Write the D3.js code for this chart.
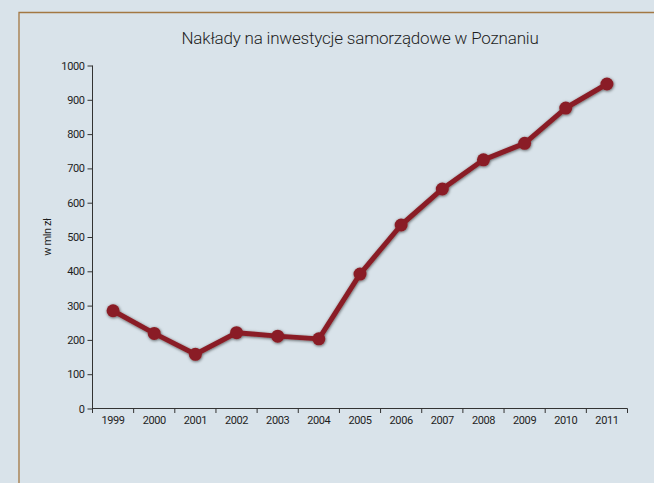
<!DOCTYPE html>
<html lang="pl">
<head>
    <meta charset="UTF-8">
    <title>Nakłady na inwestycje samorządowe w Poznaniu</title>
    <script src="https://d3js.org/d3.v7.min.js"></script>
    <style>
        body { margin: 0; background: #d9e3ea; }
        svg { display: block; }
        .axis text, .ylabel {
            font-family: Roboto, "Noto Sans", sans-serif;
            font-size: 11px;
            letter-spacing: -0.4px;
            fill: #1e1e1e;
        }
        .axis path, .axis line { stroke: #333; stroke-width: 1px; }
        .title {
            font-family: Roboto, "Open Sans", sans-serif;
            font-weight: 300;
            font-size: 17px;
            letter-spacing: -0.2px;
            fill: #1e1e1e;
        }
    </style>
</head>
<body>
    <svg id="chart" width="654" height="483"></svg>

    <script>
        // dane
        const years = ["1999", "2000", "2001", "2002", "2003", "2004", "2005",
                       "2006", "2007", "2008", "2009", "2010", "2011"];
        const values = [285, 219, 158, 221, 211, 203, 392, 535, 640, 725, 773, 876, 946];
        const yTicks = [0, 100, 200, 300, 400, 500, 600, 700, 800, 900, 1000];

        const svg = d3.select("#chart");
        const width = +svg.attr("width");
        const height = +svg.attr("height");

        // tło i obramowanie
        svg.append("rect")
            .attr("width", width).attr("height", height)
            .attr("fill", "#d9e3ea");
        svg.append("path")
            .attr("d", `M19,${height} V12.5 H${width}`)
            .attr("fill", "none")
            .attr("stroke", "#a37843")
            .attr("stroke-width", 1.3);

        // cień dla linii i punktów
        const defs = svg.append("defs");
        defs.append("filter")
            .attr("id", "shadow")
            .attr("x", "-20%").attr("y", "-20%")
            .attr("width", "140%").attr("height", "140%")
            .append("feDropShadow")
            .attr("dx", 0.5).attr("dy", 0.8)
            .attr("stdDeviation", 1.4)
            .attr("flood-color", "#000")
            .attr("flood-opacity", 0.6);

        const x = d3.scaleBand()
            .domain(years)
            .range([92.5, 627.5])
            .padding(0);

        const y = d3.scaleLinear()
            .domain([0, 1000])
            .range([408.5, 65.5]);

        // tytuł
        svg.append("text")
            .attr("class", "title")
            .attr("x", 360)
            .attr("y", 44)
            .attr("text-anchor", "middle")
            .text("Nakłady na inwestycje samorządowe w Poznaniu");

        // oś Y
        const yAxis = svg.append("g")
            .attr("class", "axis")
            .attr("transform", "translate(92.5,0)")
            .call(d3.axisLeft(y).tickValues(yTicks).tickFormat(d3.format("d"))
                .tickSize(5).tickSizeOuter(0).tickPadding(3));
        yAxis.select(".domain").attr("d", `M0,${y(1000)}V${y(0) + 4.5}`);

        // oś X - kreski na granicach kategorii
        const xAxisG = svg.append("g")
            .attr("class", "axis")
            .attr("transform", `translate(0,${y(0)})`);
        xAxisG.append("line")
            .attr("x1", x.range()[0]).attr("x2", x.range()[1]);
        const bounds = years.map(d => x(d)).concat([x.range()[1]]);
        xAxisG.selectAll(".tick-line")
            .data(bounds)
            .enter().append("line")
            .attr("x1", d => d).attr("x2", d => d)
            .attr("y1", 0).attr("y2", 4.5);
        xAxisG.selectAll(".lbl")
            .data(years)
            .enter().append("text")
            .attr("x", d => x(d) + x.bandwidth() / 2)
            .attr("y", 15)
            .attr("text-anchor", "middle")
            .text(d => d);

        // opis osi Y
        svg.append("text")
            .attr("class", "ylabel")
            .attr("transform", "translate(51,237) rotate(-90)")
            .attr("text-anchor", "middle")
            .text("w mln zł");

        // linia danych
        const pts = years.map((d, i) => [x(d) + x.bandwidth() / 2, y(values[i])]);
        const series = svg.append("g").attr("filter", "url(#shadow)");
        series.append("path")
            .datum(pts)
            .attr("d", d3.line())
            .attr("fill", "none")
            .attr("stroke", "#8a1f25")
            .attr("stroke-width", 5)
            .attr("stroke-linejoin", "round");

        series.selectAll("circle")
            .data(pts)
            .enter().append("circle")
            .attr("cx", d => d[0])
            .attr("cy", d => d[1])
            .attr("r", 6.5)
            .attr("fill", "#8a1f25");
    </script>
</body>
</html>
